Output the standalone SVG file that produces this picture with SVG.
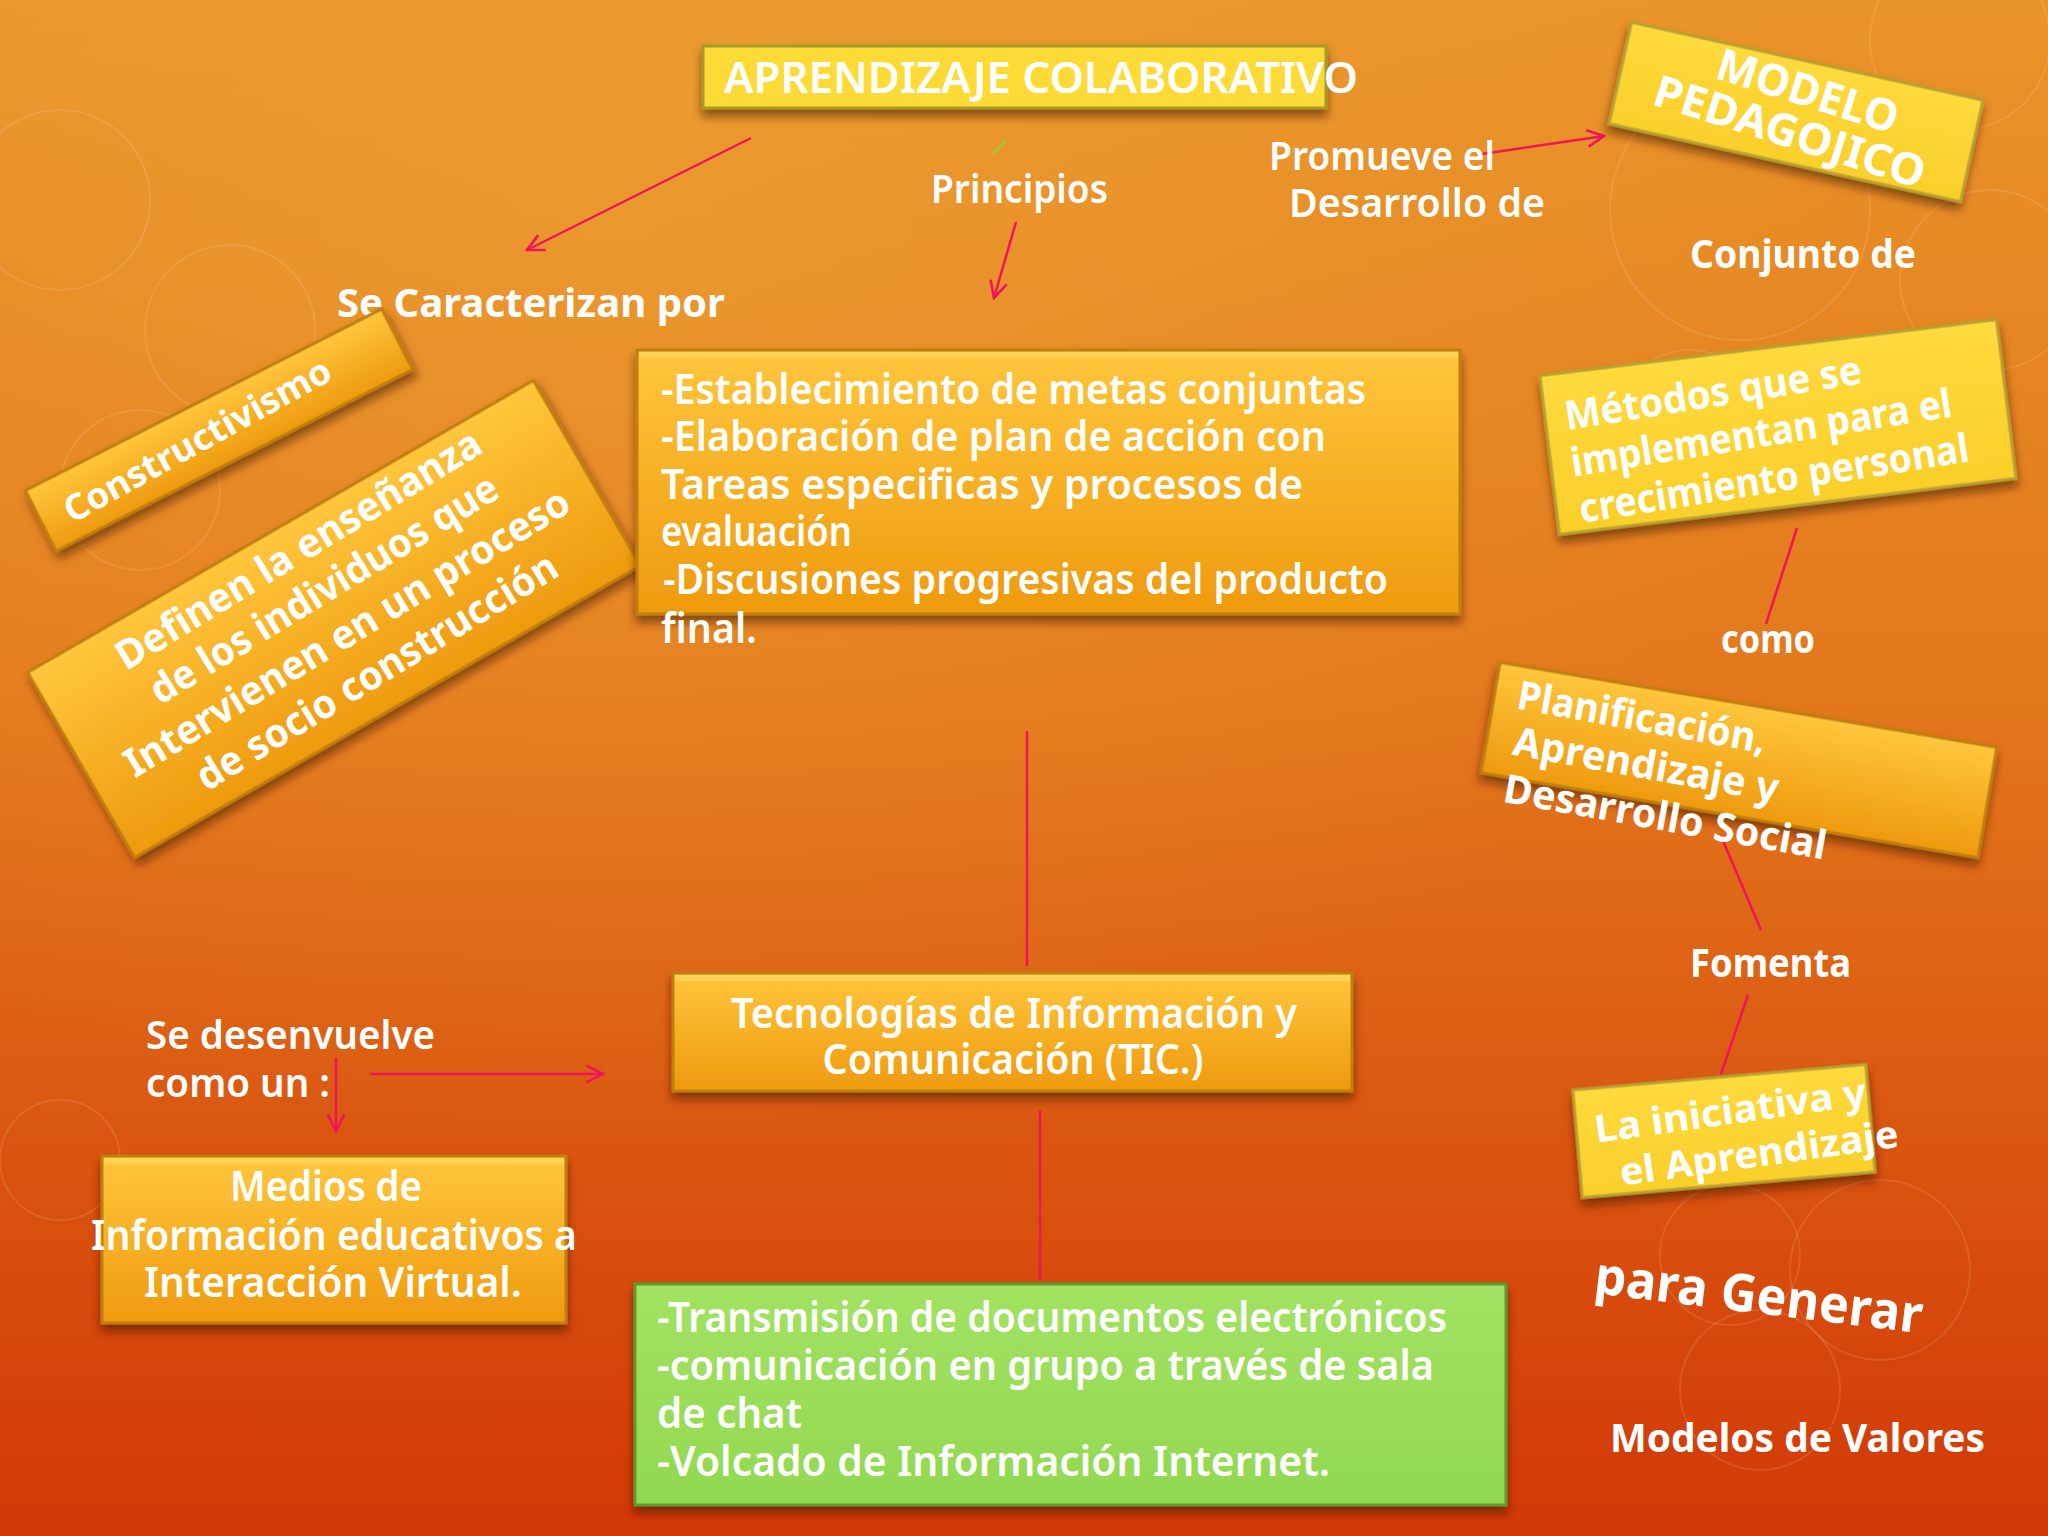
<svg xmlns="http://www.w3.org/2000/svg" width="2048" height="1536" viewBox="0 0 2048 1536">
<defs>
<linearGradient id="bg" x1="0" y1="0" x2="0" y2="1">
<stop offset="0" stop-color="#E99429"/>
<stop offset="0.45" stop-color="#E3781C"/>
<stop offset="1" stop-color="#D23806"/>
</linearGradient>
<radialGradient id="glow" cx="0.3" cy="0.15" r="0.6">
<stop offset="0" stop-color="#F2B040" stop-opacity="0.35"/>
<stop offset="1" stop-color="#F2B040" stop-opacity="0"/>
</radialGradient>
<linearGradient id="org" x1="0" y1="0" x2="0" y2="1">
<stop offset="0" stop-color="#FFC63C"/>
<stop offset="1" stop-color="#EE9A0E"/>
</linearGradient>
<linearGradient id="yel" x1="0" y1="0" x2="0" y2="1">
<stop offset="0" stop-color="#FFDA3E"/>
<stop offset="1" stop-color="#F9CF2A"/>
</linearGradient>
<linearGradient id="grn" x1="0" y1="0" x2="0" y2="1">
<stop offset="0" stop-color="#A2E262"/>
<stop offset="1" stop-color="#92D850"/>
</linearGradient>
<filter id="sh" x="-20%" y="-20%" width="140%" height="150%">
<feDropShadow dx="0" dy="7" stdDeviation="5" flood-color="#3A1500" flood-opacity="0.55"/>
</filter>
<marker id="ar" viewBox="0 0 12 12" refX="11" refY="6" markerWidth="20" markerHeight="20" markerUnits="userSpaceOnUse" orient="auto">
<path d="M1,1 L11,6 L1,11" fill="none" stroke="#F0145A" stroke-width="1.6"/>
</marker>
<style>
.t{font-family:"Noto Sans","DejaVu Sans",sans-serif;fill:#fff;font-weight:bold}
.c{font-family:"Noto Sans","DejaVu Sans",sans-serif;fill:#fff;font-weight:600}
.ob{fill:url(#org);stroke:#C07E10;stroke-width:3;filter:url(#sh)}
.yb{fill:url(#yel);stroke:#B8A030;stroke-width:3;filter:url(#sh)}
.gb{fill:url(#grn);stroke:#5E9A30;stroke-width:3;filter:url(#sh)}
.ln{stroke:#F0145A;stroke-width:2.5;fill:none}
.circ{fill:none;stroke:#FFFFFF;stroke-opacity:0.11;stroke-width:2}
</style>
</defs>
<rect width="2048" height="1536" fill="url(#bg)"/>
<rect width="2048" height="1536" fill="url(#glow)"/>
<g id="bg-circles">
<circle class="circ" cx="60" cy="200" r="90"/>
<circle class="circ" cx="230" cy="330" r="85"/>
<circle class="circ" cx="140" cy="490" r="80"/>
<circle class="circ" cx="1740" cy="210" r="130"/>
<circle class="circ" cx="1690" cy="420" r="70"/>
<circle class="circ" cx="1960" cy="40" r="90"/>
<circle class="circ" cx="1990" cy="280" r="90"/>
<circle class="circ" cx="1760" cy="1390" r="80"/>
<circle class="circ" cx="1880" cy="1270" r="90"/>
<circle class="circ" cx="1730" cy="1255" r="70"/>
<circle class="circ" cx="60" cy="1160" r="60"/>
</g>

<g id="connectors">
<line class="ln" x1="751" y1="138" x2="527" y2="250" marker-end="url(#ar)"/>
<line class="ln" x1="1016" y1="222" x2="994" y2="298" marker-end="url(#ar)"/>
<line class="ln" x1="1482" y1="154" x2="1604" y2="136" marker-end="url(#ar)"/>
<line class="ln" x1="1797" y1="528" x2="1766" y2="624"/>
<line class="ln" x1="1721" y1="836" x2="1761" y2="930"/>
<line class="ln" x1="1748" y1="995" x2="1721" y2="1074"/>
<line class="ln" x1="1027" y1="731" x2="1027" y2="966"/>
<line class="ln" x1="1040" y1="1110" x2="1040" y2="1280"/>
<line class="ln" x1="370" y1="1074" x2="603" y2="1074" marker-end="url(#ar)"/>
<line class="ln" x1="336" y1="1058" x2="336" y2="1131" marker-end="url(#ar)"/>
<line x1="993" y1="154" x2="1006" y2="140" stroke="#9ACD32" stroke-width="2.5"/>
</g>

<g id="title">
<rect x="703" y="46" width="623" height="62" fill="#FDDA36" stroke="#A89A28" stroke-width="3" filter="url(#sh)"/>
<text class="c" x="724" y="93" font-size="44" font-weight="normal" textLength="634" lengthAdjust="spacingAndGlyphs">APRENDIZAJE COLABORATIVO</text>
</g>

<g id="lbl-caracterizan"><text class="t" x="337" y="317" font-size="40" textLength="388" lengthAdjust="spacingAndGlyphs">Se Caracterizan por</text></g>
<g id="lbl-principios"><text class="c" x="931" y="203" font-size="40" textLength="177" lengthAdjust="spacingAndGlyphs">Principios</text></g>
<g id="lbl-promueve">
<text class="c" x="1269" y="170" font-size="40" textLength="226" lengthAdjust="spacingAndGlyphs">Promueve el</text>
<text class="c" x="1289" y="217" font-size="40" textLength="256" lengthAdjust="spacingAndGlyphs">Desarrollo de</text>
</g>

<g id="modelo" transform="translate(1796,112) rotate(12.5)">
<rect x="-180" y="-52" width="360" height="104" class="yb"/>
<g transform="rotate(5)">
<text class="t" x="5" y="-8" font-size="44" text-anchor="middle" textLength="188" lengthAdjust="spacingAndGlyphs">MODELO</text>
<text class="t" x="0" y="36" font-size="44" text-anchor="middle" textLength="282" lengthAdjust="spacingAndGlyphs">PEDAGOJICO</text>
</g>
</g>

<g id="lbl-conjunto"><text class="t" x="1690" y="268" font-size="40" textLength="226" lengthAdjust="spacingAndGlyphs">Conjunto de</text></g>

<g id="metodos" transform="translate(1778,427) rotate(-7)">
<rect x="-230" y="-80" width="460" height="160" class="yb"/>
<g transform="rotate(-2)">
<text class="t" x="-209" y="-30" font-size="40" textLength="300" lengthAdjust="spacingAndGlyphs">Métodos que se</text>
<text class="t" x="-210" y="17" font-size="40" textLength="385" lengthAdjust="spacingAndGlyphs">implementan para el</text>
<text class="t" x="-209" y="64" font-size="40" textLength="394" lengthAdjust="spacingAndGlyphs">crecimiento personal</text>
</g>
</g>

<g id="lbl-como"><text class="t" x="1721" y="653" font-size="40" textLength="94" lengthAdjust="spacingAndGlyphs">como</text></g>

<g id="planificacion" transform="translate(1739,760) rotate(9.7)">
<rect x="-252" y="-56" width="504" height="112" class="ob"/>
<g transform="rotate(0.5)">
<text class="t" x="-229" y="-11" font-size="40" textLength="252" lengthAdjust="spacingAndGlyphs">Planificación,</text>
<text class="t" x="-225" y="35" font-size="40" textLength="269" lengthAdjust="spacingAndGlyphs">Aprendizaje y</text>
<text class="t" x="-226" y="83" font-size="40" textLength="327" lengthAdjust="spacingAndGlyphs">Desarrollo Social</text>
</g>
</g>

<g id="lbl-fomenta"><text class="t" x="1690" y="977" font-size="40" textLength="161" lengthAdjust="spacingAndGlyphs">Fomenta</text></g>

<g id="iniciativa" transform="translate(1724,1131) rotate(-5)">
<rect x="-147" y="-54" width="294" height="108" class="yb"/>
<g transform="rotate(-3)">
<text class="t" x="-128" y="-6" font-size="38" textLength="274" lengthAdjust="spacingAndGlyphs">La iniciativa y</text>
<text class="t" x="-109" y="40" font-size="38" textLength="281" lengthAdjust="spacingAndGlyphs">el Aprendizaje</text>
</g>
</g>

<g id="lbl-generar"><text class="t" x="1593" y="1293" font-size="52" transform="rotate(7 1593 1293)" textLength="330" lengthAdjust="spacingAndGlyphs">para Generar</text></g>
<g id="lbl-valores"><text class="t" x="1610" y="1452" font-size="40" textLength="375" lengthAdjust="spacingAndGlyphs">Modelos de Valores</text></g>

<g id="constructivismo" transform="translate(219,430) rotate(-27)">
<rect x="-200" y="-34" width="400" height="68" class="ob"/>
<text class="t" x="-24" y="11" font-size="36" text-anchor="middle" textLength="300" lengthAdjust="spacingAndGlyphs" transform="rotate(-2)">Constructivismo</text>
</g>

<g id="definen" transform="translate(334,619) rotate(-30)">
<rect x="-292" y="-107" width="584" height="214" class="ob"/>
<g transform="rotate(-1.5)">
<text class="t" x="6" y="-64" font-size="40" text-anchor="middle" textLength="421" lengthAdjust="spacingAndGlyphs">Definen la enseñanza</text>
<text class="t" x="7" y="-17" font-size="40" text-anchor="middle" textLength="401" lengthAdjust="spacingAndGlyphs">de los individuos que</text>
<text class="t" x="4" y="32" font-size="40" text-anchor="middle" textLength="514" lengthAdjust="spacingAndGlyphs">Intervienen en un proceso</text>
<text class="t" x="9" y="81" font-size="40" text-anchor="middle" textLength="416" lengthAdjust="spacingAndGlyphs">de socio construcción</text>
</g>
</g>

<g id="principios-box">
<rect x="637" y="350" width="823" height="264" class="ob"/>
<rect x="639" y="352" width="819" height="6" fill="#FFD860" opacity="0.7"/>
<text class="c" x="661" y="404" font-size="42" textLength="705" lengthAdjust="spacingAndGlyphs">-Establecimiento de metas conjuntas</text>
<text class="c" x="661" y="451" font-size="42" textLength="665" lengthAdjust="spacingAndGlyphs">-Elaboración de plan de acción con</text>
<text class="c" x="661" y="499" font-size="42" textLength="642" lengthAdjust="spacingAndGlyphs">Tareas especificas y procesos de</text>
<text class="c" x="661" y="546" font-size="42" textLength="191" lengthAdjust="spacingAndGlyphs">evaluación</text>
<text class="c" x="663" y="594" font-size="42" textLength="725" lengthAdjust="spacingAndGlyphs">-Discusiones progresivas del producto</text>
<text class="c" x="661" y="643" font-size="42" textLength="96" lengthAdjust="spacingAndGlyphs">final.</text>
</g>

<g id="tic">
<rect x="673" y="973" width="679" height="118" class="ob"/>
<rect x="675" y="975" width="675" height="6" fill="#FFD860" opacity="0.7"/>
<text class="c" x="1014" y="1028" font-size="41" text-anchor="middle" textLength="566" lengthAdjust="spacingAndGlyphs">Tecnologías de Información y</text>
<text class="c" x="1013" y="1074" font-size="41" text-anchor="middle" textLength="381" lengthAdjust="spacingAndGlyphs">Comunicación (TIC.)</text>
</g>

<g id="lbl-desenvuelve">
<text class="c" x="146" y="1049" font-size="40" textLength="289" lengthAdjust="spacingAndGlyphs">Se desenvuelve</text>
<text class="c" x="146" y="1097" font-size="40" textLength="184" lengthAdjust="spacingAndGlyphs">como un :</text>
</g>

<g id="medios">
<rect x="102" y="1156" width="464" height="167" class="ob"/>
<rect x="104" y="1158" width="460" height="6" fill="#FFD860" opacity="0.7"/>
<text class="c" x="326" y="1201" font-size="41" text-anchor="middle" textLength="192" lengthAdjust="spacingAndGlyphs">Medios de</text>
<text class="c" x="334" y="1250" font-size="41" text-anchor="middle" textLength="486" lengthAdjust="spacingAndGlyphs">Información educativos a</text>
<text class="c" x="333" y="1297" font-size="41" text-anchor="middle" textLength="378" lengthAdjust="spacingAndGlyphs">Interacción Virtual.</text>
</g>

<g id="tic-detalle">
<rect x="635" y="1284" width="871" height="221" class="gb"/>
<text class="c" x="657" y="1332" font-size="41" textLength="790" lengthAdjust="spacingAndGlyphs">-Transmisión de documentos electrónicos</text>
<text class="c" x="657" y="1380" font-size="41" textLength="777" lengthAdjust="spacingAndGlyphs">-comunicación en grupo a través de sala</text>
<text class="c" x="657" y="1428" font-size="41" textLength="145" lengthAdjust="spacingAndGlyphs">de chat</text>
<text class="c" x="657" y="1476" font-size="41" textLength="673" lengthAdjust="spacingAndGlyphs">-Volcado de Información Internet.</text>
</g>
</svg>
